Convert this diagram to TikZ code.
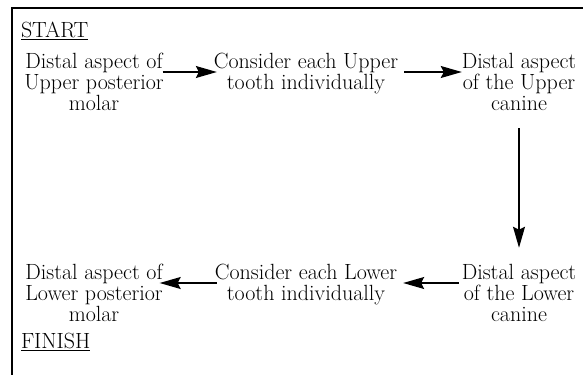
\documentclass[tikz,border=0pt]{standalone}
\usetikzlibrary{arrows.meta}
\begin{document}
\begin{tikzpicture}[x=1pt,y=1pt,
  every node/.style={inner sep=0pt,outer sep=0pt},
  txt/.style={font=\fontsize{22}{21}\selectfont,align=center,anchor=base},
  lbl/.style={font=\fontsize{22}{21}\selectfont,anchor=base west},
  frame/.style={line width=1.4pt},
  arr/.style={line width=1.2pt,-{Stealth[length=21pt,width=12pt,inset=3pt]}}]
\useasboundingbox (0,0) rectangle (583,-375);
\draw[frame] (583,-8) -- (12,-8) -- (12,-375);
\node[lbl] (start) at (21,-37) {\underline{START}};
\node[lbl] (finish) at (21,-348) {\underline{FINISH}};
\node[txt] (ul) at (94,-110) {Distal aspect of\\Upper posterior\\molar};
\node[txt] (um) at (306,-89) {Consider each Upper\\tooth individually};
\node[txt] (ur) at (519,-110) {Distal aspect\\of the Upper\\canine};
\node[txt] (ll) at (94,-321) {Distal aspect of\\Lower posterior\\molar};
\node[txt] (lm) at (306,-300) {Consider each Lower\\tooth individually};
\node[txt] (lr) at (519,-321) {Distal aspect\\of the Lower\\canine};
\coordinate (r1) at (0,-72);
\coordinate (r2) at (0,-283);
\draw[arr,shorten <=-1pt,shorten >=-3pt] (ul.east |- r1) -- (um.west |- r1);
\draw[arr,shorten <=6pt] (um.east |- r1) -- (ur.west |- r1);
\draw[arr,shorten <=18pt,shorten >=16pt] (ur.south) -- (lr.north);
\draw[arr,shorten <=3pt,shorten >=6pt] (lr.west |- r2) -- (lm.east |- r2);
\draw[arr,shorten <=-2pt,shorten >=-3pt] (lm.west |- r2) -- (ll.east |- r2);
\end{tikzpicture}
\end{document}
